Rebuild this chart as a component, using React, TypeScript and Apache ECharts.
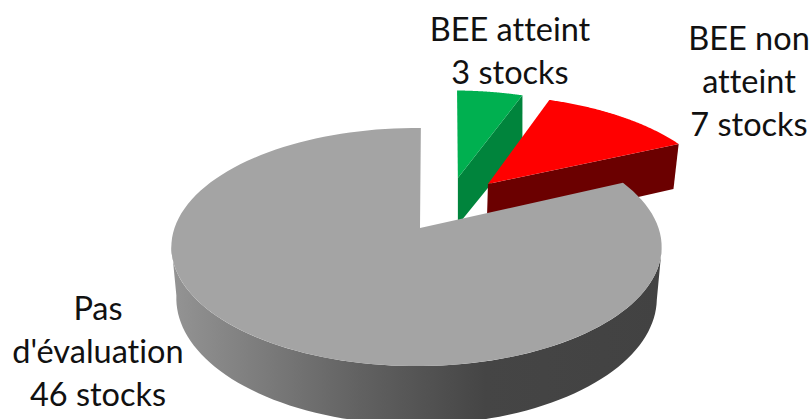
import React, { useEffect, useRef } from "react";
import * as echarts from "echarts";

const categories = ["BEE atteint", "BEE non atteint", "Pas d'évaluation"];
const stocks = [3, 7, 46];
const labelLines = [
  ["BEE atteint", "3 stocks"],
  ["BEE non", "atteint", "7 stocks"],
  ["Pas", "d'évaluation", "46 stocks"],
];

// Projection of the tilted disc
const CX = 420;
const CY = 228;
const RX = 242;
const RY = 116;
const K = 0.16;
const START = 1.2;
const DEPTH_BASE = 50;
const DEPTH_TILT = 7;
const BOTTOM_SCALE = 0.98;

const sliceStyle = [
  { top: "#00B050", side: "#00843C", dx: 0.168, dy: 0.463, rimShift: 0, scale: 1, extra: 8 },
  { top: "#FF0000", side: "#6B0000", dx: 0.299, dy: 0.404, rimShift: 0, scale: BOTTOM_SCALE, extra: 0 },
  { top: "#A4A4A4", side: "", dx: 0, dy: 0, rimShift: -3.5, scale: BOTTOM_SCALE, extra: 0 },
];
const labelStyle = [
  { x: 510, y: 28.5 },
  { x: 749, y: 37.5 },
  { x: 98, y: 307.5 },
];
const LINE_H = 43;

type P = [number, number];

function project(X: number, Y: number, shift: number, scale: number): { t: P; b: P } {
  const w = 1 + K * Y;
  const tx = CX + (RX * X) / w + shift;
  const ty = CY - (RY * Y) / w;
  const bx = CX + scale * (tx - CX);
  const by = ty + DEPTH_BASE - (DEPTH_TILT * Y) / w;
  return { t: [tx, ty], b: [bx, by] };
}

function rim(i: number, deg: number) {
  const s = sliceStyle[i];
  const a = (deg * Math.PI) / 180;
  return project(Math.sin(a) + s.dx, Math.cos(a) + s.dy, s.rimShift, s.scale);
}

const total = stocks.reduce((a, b) => a + b, 0);

function renderItem(_params: any, api: any) {
  const i = _params.dataIndex as number;
  const before = stocks.slice(0, i).reduce((a, b) => a + b, 0);
  const a0 = START + (before / total) * 360;
  const a1 = a0 + (api.value(0) / total) * 360;
  const s = sliceStyle[i];
  const apex = project(s.dx, s.dy, 0, s.scale);

  const top: P[] = [apex.t];
  const n = 120;
  for (let k = 0; k <= n; k++) {
    top.push(rim(i, a0 + ((a1 - a0) * k) / n).t);
  }

  const children: any[] = [];
  if (i < 2) {
    // visible cut face, from the apex to the end of the rim
    const e = rim(i, a1);
    const lowEnd: P = [e.b[0], e.b[1] + s.extra];
    children.push({
      type: "polygon",
      silent: true,
      shape: { points: [apex.t, e.t, lowEnd, apex.b] },
      style: { fill: s.side },
    });
  } else {
    // outer wall of the large slice
    const upper: P[] = [];
    const lower: P[] = [];
    const from = 100;
    const to = 262;
    for (let k = 0; k <= 80; k++) {
      const p = rim(i, from + ((to - from) * k) / 80);
      upper.push(p.t);
      lower.unshift(p.b);
    }
    children.push({
      type: "polygon",
      silent: true,
      shape: { points: upper.concat(lower) },
      style: {
        fill: new echarts.graphic.LinearGradient(0, 0, 1, 0, [
          { offset: 0, color: "#949494" },
          { offset: 0.38, color: "#626262" },
          { offset: 0.64, color: "#454545" },
          { offset: 1, color: "#424242" },
        ]),
      },
    });
  }
  children.push({
    type: "polygon",
    silent: true,
    shape: { points: top },
    style: { fill: s.top },
  });

  const l = labelStyle[i];
  labelLines[i].forEach((line, k) => {
    children.push({
      type: "text",
      silent: true,
      z2: 10,
      style: {
        x: l.x,
        y: l.y + k * LINE_H,
        text: line,
        align: "center",
        verticalAlign: "middle",
        fontFamily: "Lato",
        fontSize: 32.5,
        fill: "#111",
      },
    });
  });
  return { type: "group", children };
}

export default function App() {
  const ref = useRef<HTMLDivElement>(null);
  useEffect(() => {
    if (!ref.current) return;
    const chart = echarts.init(ref.current, undefined, { renderer: "svg" });
    chart.setOption({
      animation: false,
      backgroundColor: "#fff",
      series: [
        {
          type: "custom",
          coordinateSystem: "none",
          renderItem,
          clip: false,
          data: categories.map((name, i) => ({ name, value: [stocks[i]] })),
        },
      ],
    });
    return () => chart.dispose();
  }, []);
  return (
    <div
      ref={ref}
      style={{
        position: "absolute",
        left: 0,
        top: 0,
        width: 811,
        height: 419,
        fontVariantLigatures: "none",
      }}
    />
  );
}
